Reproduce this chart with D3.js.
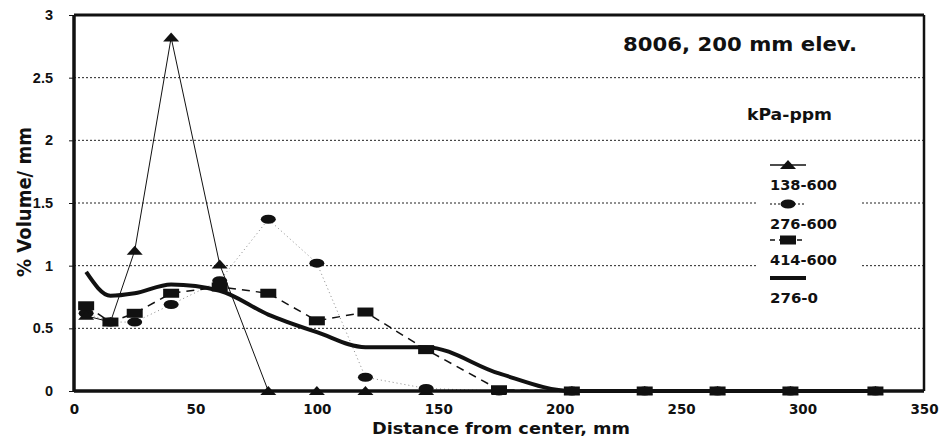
<!DOCTYPE html>
<html>
<head>
<meta charset="utf-8">
<script src="https://cdn.jsdelivr.net/npm/d3@7"></script>
<style>
  body { margin: 0; background: #fff; }
  text { font-family: "DejaVu Sans", sans-serif; font-weight: bold; fill: #111; }
</style>
</head>
<body>
<div id="chart"></div>
<script>
// values
const distances = [5, 15, 25, 40, 60, 80, 100, 120, 145, 175, 205, 235, 265, 295, 330];
const s138_600 = [0.6, 0.55, 1.12, 2.82, 1.01, 0, 0, 0, 0, 0, 0, 0, 0, 0, 0];
const s276_600 = [0.62, 0.55, 0.55, 0.69, 0.88, 1.37, 1.02, 0.11, 0.02, 0, 0, 0, 0, 0, 0];
const s414_600 = [0.68, 0.55, 0.62, 0.78, 0.83, 0.78, 0.56, 0.63, 0.33, 0.01, 0, 0, 0, 0, 0];
const s276_0 = [0.95, 0.76, 0.78, 0.85, 0.8, 0.61, 0.47, 0.35, 0.35, 0.14, 0, 0, 0, 0, 0];
const seriesNames = ['138-600', '276-600', '414-600', '276-0'];
const xTicks = [0, 50, 100, 150, 200, 250, 300, 350];
const yTicks = [0, 0.5, 1, 1.5, 2, 2.5, 3];

const W = 943, H = 442;
const margin = { top: 15, right: 19, bottom: 51, left: 74 };
const width = W - margin.left - margin.right;
const height = H - margin.top - margin.bottom;

const svg = d3.select('#chart').append('svg')
    .attr('width', W)
    .attr('height', H);

const g = svg.append('g')
    .attr('transform', `translate(${margin.left},${margin.top})`);

const x = d3.scaleLinear().domain([0, 350]).range([0, width]);
const y = d3.scaleLinear().domain([0, 3]).range([height, 0]);

// gridlines
g.selectAll('.grid')
    .data(yTicks.filter(d => d > 0 && d < 3))
    .enter().append('line')
    .attr('class', 'grid')
    .attr('x1', 0).attr('x2', width)
    .attr('y1', d => y(d)).attr('y2', d => y(d))
    .attr('stroke', '#222')
    .attr('stroke-width', 1)
    .attr('stroke-dasharray', '2,2');

// axes
const yAxis = g.append('g')
    .call(d3.axisLeft(y).tickValues(yTicks).tickSize(5).tickPadding(16).tickFormat(d3.format('')));
yAxis.select('.domain').remove();
yAxis.selectAll('text')
    .style('font-family', '"Liberation Sans", Arial, sans-serif')
    .style('font-size', '14.5px');
yAxis.selectAll('line').attr('stroke', '#111');

const xAxis = g.append('g')
    .attr('transform', `translate(0,${height})`)
    .call(d3.axisBottom(x).tickValues(xTicks).tickSize(0).tickPadding(13));
xAxis.select('.domain').remove();
xAxis.selectAll('text').style('font-size', '13.5px');

// legend background (hides the gridlines behind it)
g.append('rect')
    .attr('x', 758 - margin.left).attr('y', 150 - margin.top)
    .attr('width', 102).attr('height', 158)
    .attr('fill', '#fff');

// series lines
const pts = vals => distances.map((d, i) => [d, vals[i]]);
const line = d3.line().x(d => x(d[0])).y(d => y(d[1]));
const smooth = d3.line().x(d => x(d[0])).y(d => y(d[1])).curve(d3.curveMonotoneX);

g.append('path').datum(pts(s276_600))
    .attr('d', line).attr('fill', 'none')
    .attr('stroke', '#888').attr('stroke-width', 1).attr('stroke-dasharray', '1,3');
g.append('path').datum(pts(s138_600))
    .attr('d', line).attr('fill', 'none')
    .attr('stroke', '#111').attr('stroke-width', 1);
g.append('path').datum(pts(s414_600))
    .attr('d', line).attr('fill', 'none')
    .attr('stroke', '#111').attr('stroke-width', 1.5).attr('stroke-dasharray', '8,6');
g.append('path').datum(pts(s276_0))
    .attr('d', smooth).attr('fill', 'none')
    .attr('stroke', '#111').attr('stroke-width', 4).attr('stroke-linejoin', 'round');

// markers
function triangle(sel) {
    sel.append('path').attr('d', 'M-8,4L0,-5L8,4Z').attr('fill', '#111');
}
function ellipse(sel) {
    sel.append('ellipse').attr('rx', 7.5).attr('ry', 4.5).attr('fill', '#111');
}
function square(sel) {
    sel.append('rect').attr('x', -8).attr('y', -4.5).attr('width', 16).attr('height', 9).attr('fill', '#111');
}

g.selectAll('.m276').data(pts(s276_600)).enter().append('g')
    .attr('class', 'm276')
    .attr('transform', d => `translate(${x(d[0])},${y(d[1])})`)
    .call(ellipse);
g.selectAll('.m138').data(pts(s138_600)).enter().append('g')
    .attr('class', 'm138')
    .attr('transform', d => `translate(${x(d[0])},${y(d[1])})`)
    .call(triangle);
g.selectAll('.m414').data(pts(s414_600)).enter().append('g')
    .attr('class', 'm414')
    .attr('transform', d => `translate(${x(d[0])},${y(d[1])})`)
    .call(square);

// frame
g.append('path')
    .attr('d', `M0,0H${width}`).attr('stroke', '#111').attr('stroke-width', 3);
g.append('path')
    .attr('d', `M${width},0V${height}`).attr('stroke', '#111').attr('stroke-width', 2.5);
g.append('path')
    .attr('d', `M0,${height}H${width}`).attr('stroke', '#111').attr('stroke-width', 3.5);
g.append('path')
    .attr('d', `M0,0V${height}`).attr('stroke', '#111').attr('stroke-width', 3.5);

// titles
svg.append('text')
    .attr('x', 623).attr('y', 51)
    .attr('textLength', 234).attr('lengthAdjust', 'spacingAndGlyphs')
    .style('font-size', '20px')
    .text('8006, 200 mm elev.');

svg.append('text')
    .attr('x', 372).attr('y', 434)
    .attr('textLength', 258).attr('lengthAdjust', 'spacingAndGlyphs')
    .style('font-size', '16.5px')
    .text('Distance from center, mm');

svg.append('text')
    .attr('transform', 'translate(31,277) rotate(-90)')
    .attr('textLength', 150).attr('lengthAdjust', 'spacingAndGlyphs')
    .style('font-size', '19px')
    .text('% Volume/ mm');

// legend
svg.append('text')
    .attr('x', 747).attr('y', 120)
    .attr('textLength', 85).attr('lengthAdjust', 'spacingAndGlyphs')
    .style('font-size', '15px')
    .text('kPa-ppm');

const legend = svg.append('g');
const legY = [165, 204, 240, 278];
const legStyles = [
    { stroke: '#111', w: 1.5, dash: null, mark: triangle },
    { stroke: '#555', w: 1.5, dash: '2,2', mark: ellipse },
    { stroke: '#111', w: 1.5, dash: '5,4', mark: square },
    { stroke: '#111', w: 4, dash: null, mark: null }
];
seriesNames.forEach((name, i) => {
    const st = legStyles[i];
    legend.append('line')
        .attr('x1', 770).attr('x2', 806)
        .attr('y1', legY[i]).attr('y2', legY[i])
        .attr('stroke', st.stroke).attr('stroke-width', st.w)
        .attr('stroke-dasharray', st.dash);
    if (st.mark) {
        legend.append('g')
            .attr('transform', `translate(788,${legY[i]})`)
            .call(st.mark);
    }
    legend.append('text')
        .attr('x', 770).attr('y', legY[i] + 25)
        .attr('textLength', name.length > 5 ? 67 : 48).attr('lengthAdjust', 'spacingAndGlyphs')
        .style('font-size', '14px')
        .text(name);
});
</script>
</body>
</html>
